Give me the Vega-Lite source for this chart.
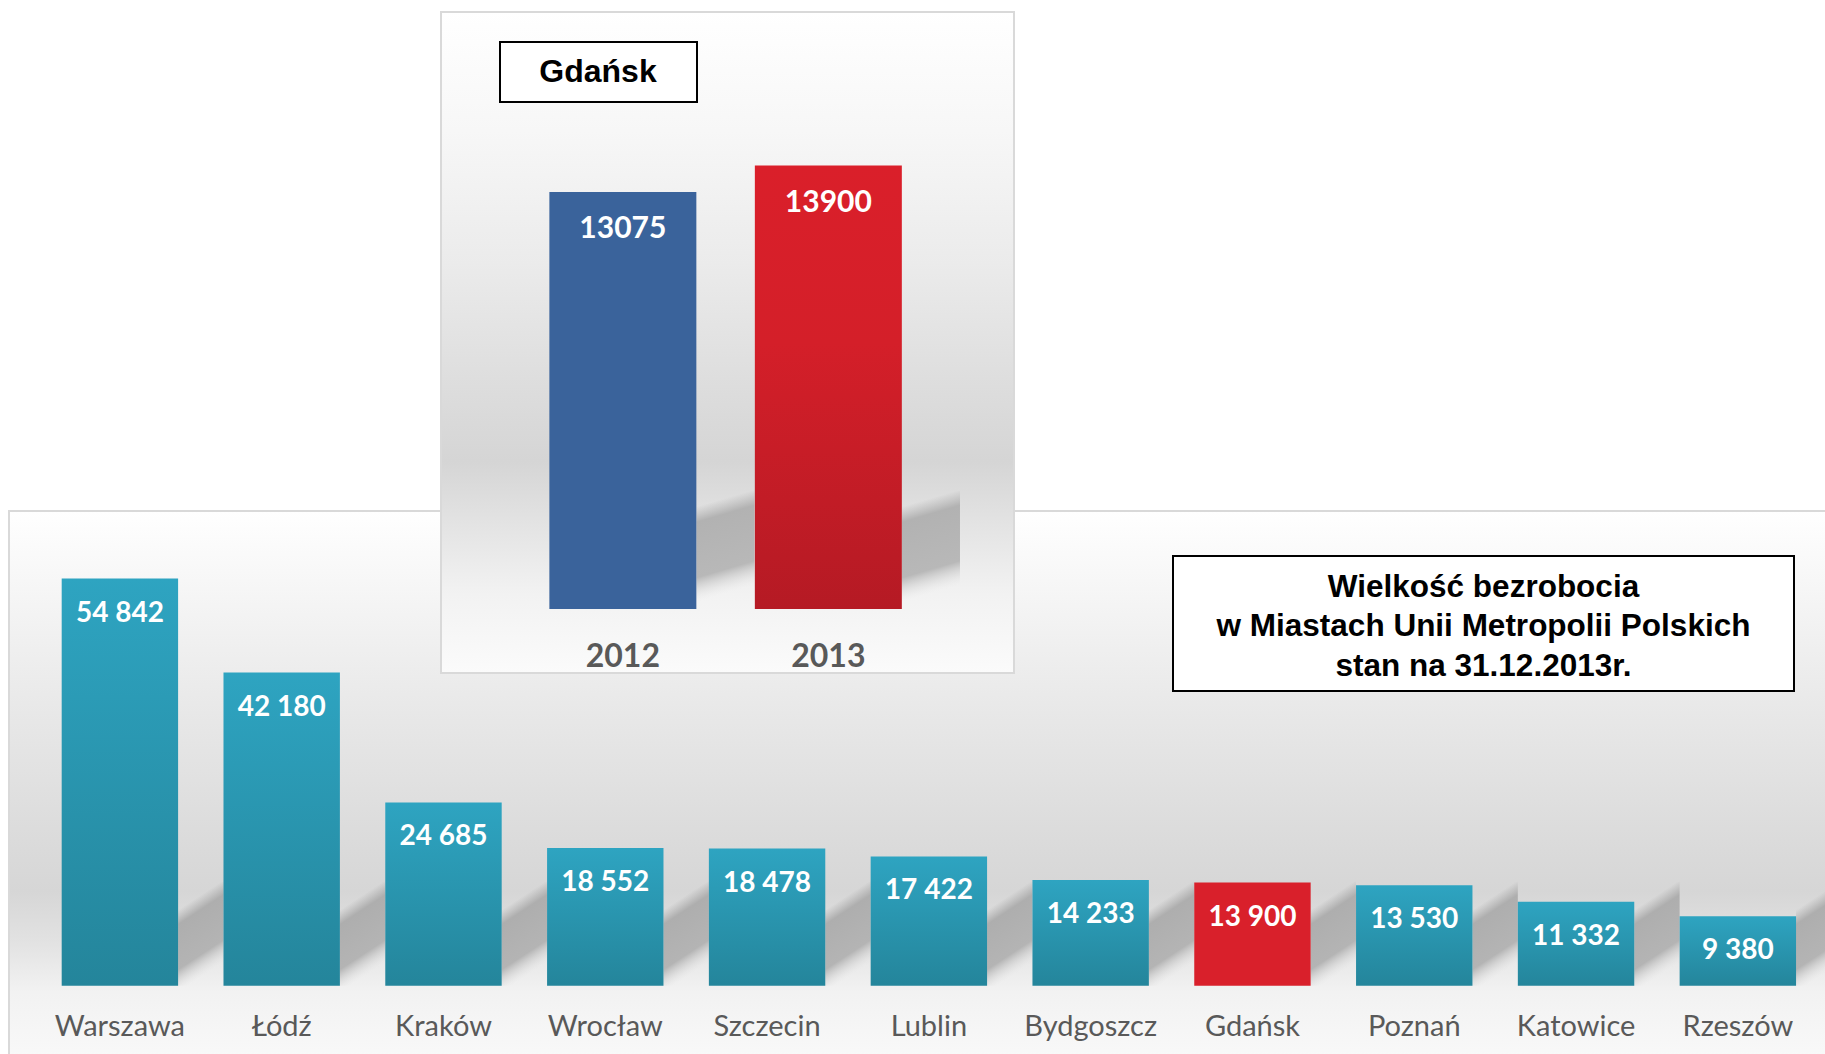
{
  "$schema": "https://vega.github.io/schema/vega-lite/v6.json",
  "width": 1825,
  "height": 1054,
  "autosize": "none",
  "padding": 0,
  "background": "#ffffff",
  "config": {
    "view": {"stroke": null},
    "locale": {"number": {"decimal": ",", "thousands": " ", "grouping": [3], "currency": ["", " zł"]}}
  },
  "datasets": {
    "cities": [
      {"city": "Warszawa", "value": 54842},
      {"city": "Łódź", "value": 42180},
      {"city": "Kraków", "value": 24685},
      {"city": "Wrocław", "value": 18552},
      {"city": "Szczecin", "value": 18478},
      {"city": "Lublin", "value": 17422},
      {"city": "Bydgoszcz", "value": 14233},
      {"city": "Gdańsk", "value": 13900},
      {"city": "Poznań", "value": 13530},
      {"city": "Katowice", "value": 11332},
      {"city": "Rzeszów", "value": 9380}
    ],
    "gdansk": [
      {"year": "2012", "value": 13075},
      {"year": "2013", "value": 13900}
    ]
  },
  "layer": [
    {
      "data": {"values": [{"panel": "main"}]},
      "mark": {
        "type": "rect",
        "stroke": "#d9d9d9",
        "strokeWidth": 2,
        "fill": {
          "gradient": "linear", "x1": 0, "y1": 0, "x2": 0, "y2": 1,
          "stops": [
            {"offset": 0, "color": "#ffffff"},
            {"offset": 0.17, "color": "#f4f4f4"},
            {"offset": 0.36, "color": "#e8e8e8"},
            {"offset": 0.55, "color": "#dddddd"},
            {"offset": 0.68, "color": "#d6d6d6"},
            {"offset": 0.77, "color": "#e2e2e2"},
            {"offset": 0.86, "color": "#f2f2f2"},
            {"offset": 1, "color": "#fafafa"}
          ]
        }
      },
      "encoding": {
        "x": {"value": 9},
        "x2": {"value": 1840},
        "y": {"value": 511},
        "y2": {"value": 1070}
      }
    },
    {
      "data": {"name": "cities"},
      "mark": {
        "type": "rect",
        "fill": {
          "gradient": "linear", "x1": 0, "y1": 0, "x2": 0.286, "y2": 1,
          "stops": [
            {"offset": 0, "color": "rgba(174,174,174,0)"},
            {"offset": 0.25, "color": "rgba(174,174,174,0)"},
            {"offset": 0.38, "color": "rgba(174,174,174,1)"},
            {"offset": 0.78, "color": "rgba(180,180,180,1)"},
            {"offset": 0.98, "color": "rgba(225,225,225,0)"}
          ]
        }
      },
      "encoding": {
        "x": {
          "field": "city", "type": "nominal",
          "scale": {
            "domain": ["Warszawa", "Łódź", "Kraków", "Wrocław", "Szczecin", "Lublin", "Bydgoszcz", "Gdańsk", "Poznań", "Katowice", "Rzeszów"],
            "range": [119.9, 1899.6],
            "paddingInner": 0.7194,
            "paddingOuter": 0.3597
          },
          "axis": null
        },
        "y": {
          "datum": 14000, "type": "quantitative",
          "scale": {"domain": [0, 60000], "range": [985.8, 540.2], "nice": false, "zero": true},
          "axis": null
        },
        "y2": {"datum": 0}
      }
    },
    {
      "data": {"name": "cities"},
      "layer": [
        {
          "mark": {"type": "bar"},
          "encoding": {
            "x": {
              "field": "city", "type": "nominal",
              "scale": {
                "domain": ["Warszawa", "Łódź", "Kraków", "Wrocław", "Szczecin", "Lublin", "Bydgoszcz", "Gdańsk", "Poznań", "Katowice", "Rzeszów"],
                "range": [39.04, 1818.7],
                "paddingInner": 0.2805,
                "paddingOuter": 0.14
              },
              "axis": {
                "orient": "bottom",
                "offset": -18.5,
                "zindex": 2,
                "title": null,
                "domain": false,
                "ticks": false,
                "tickSize": 0,
                "grid": false,
                "labelPadding": 0,
                "labelAngle": 0,
                "labelBaseline": "alphabetic",
                "labelFont": "Lato",
                "labelFontSize": 29,
                "labelColor": "#595959",
                "labelOverlap": false
              }
            },
            "y": {
              "field": "value", "type": "quantitative",
              "scale": {"domain": [0, 60000], "range": [985.8, 540.2], "nice": false, "zero": true},
              "axis": null
            },
            "fill": {
              "condition": {"test": "datum.city === 'Gdańsk'", "value": "#d9202b"},
              "value": {
                "gradient": "linear", "x1": 0, "y1": 0, "x2": 0, "y2": 1,
                "stops": [
                  {"offset": 0, "color": "#2ea4c1"},
                  {"offset": 1, "color": "#24859b"}
                ]
              }
            }
          }
        },
        {
          "mark": {"type": "text", "baseline": "middle", "align": "center", "dy": 35, "font": "Lato", "fontWeight": "bold", "fontSize": 28, "fill": "#ffffff"},
          "encoding": {
            "x": {"field": "city", "type": "nominal"},
            "y": {"field": "value", "type": "quantitative"},
            "text": {"field": "value", "type": "quantitative", "format": ",d"}
          }
        }
      ]
    },
    {
      "data": {"values": [{"panel": "inset"}]},
      "mark": {
        "type": "rect",
        "stroke": "#d9d9d9",
        "strokeWidth": 2,
        "fill": {
          "gradient": "linear", "x1": 0, "y1": 0, "x2": 0, "y2": 1,
          "stops": [
            {"offset": 0, "color": "#ffffff"},
            {"offset": 0.18, "color": "#f7f7f7"},
            {"offset": 0.38, "color": "#ebebeb"},
            {"offset": 0.58, "color": "#dcdcdc"},
            {"offset": 0.68, "color": "#d5d5d5"},
            {"offset": 0.78, "color": "#e4e4e4"},
            {"offset": 0.88, "color": "#f2f2f2"},
            {"offset": 1, "color": "#fbfbfb"}
          ]
        }
      },
      "encoding": {
        "x": {"value": 441},
        "x2": {"value": 1014},
        "y": {"value": 12},
        "y2": {"value": 673}
      }
    },
    {
      "data": {"name": "gdansk"},
      "mark": {
        "type": "rect",
        "fill": {
          "gradient": "linear", "x1": 0, "y1": 0, "x2": 0.144, "y2": 1,
          "stops": [
            {"offset": 0, "color": "rgba(178,178,178,0)"},
            {"offset": 0.13, "color": "rgba(178,178,178,0)"},
            {"offset": 0.26, "color": "rgba(178,178,178,1)"},
            {"offset": 0.72, "color": "rgba(184,184,184,1)"},
            {"offset": 0.92, "color": "rgba(230,230,230,0)"}
          ]
        }
      },
      "encoding": {
        "x": {
          "field": "year", "type": "nominal",
          "scale": {"domain": ["2012", "2013"], "range": [622.7, 1033.7], "paddingInner": 0.7173, "paddingOuter": 0.3587},
          "axis": null
        },
        "y": {
          "datum": 3700, "type": "quantitative",
          "scale": {"domain": [0, 15000], "range": [609, 130.5], "nice": false, "zero": true},
          "axis": null
        },
        "y2": {"datum": 0}
      }
    },
    {
      "data": {"name": "gdansk"},
      "layer": [
        {
          "mark": {"type": "bar"},
          "encoding": {
            "x": {
              "field": "year", "type": "nominal",
              "scale": {"domain": ["2012", "2013"], "range": [520.6, 930.6], "paddingInner": 0.2847, "paddingOuter": 0.14},
              "axis": {
                "orient": "top",
                "offset": -666.5,
                "zindex": 2,
                "title": null,
                "domain": false,
                "ticks": false,
                "tickSize": 0,
                "grid": false,
                "labelPadding": 0,
                "labelAngle": 0,
                "labelBaseline": "alphabetic",
                "labelFont": "Lato",
                "labelFontWeight": "bold",
                "labelFontSize": 32,
                "labelColor": "#595959"
              }
            },
            "y": {
              "field": "value", "type": "quantitative",
              "scale": {"domain": [0, 15000], "range": [609, 130.5], "nice": false, "zero": true},
              "axis": null
            },
            "fill": {
              "condition": {"test": "datum.year === '2012'", "value": "#3a639b"},
              "value": {
                "gradient": "linear", "x1": 0, "y1": 0, "x2": 0, "y2": 1,
                "stops": [
                  {"offset": 0, "color": "#da1f2a"},
                  {"offset": 0.4, "color": "#d41f29"},
                  {"offset": 1, "color": "#b51a24"}
                ]
              }
            }
          }
        },
        {
          "mark": {"type": "text", "baseline": "middle", "align": "center", "dy": 37, "font": "Lato", "fontWeight": "bold", "fontSize": 30, "fill": "#ffffff"},
          "encoding": {
            "x": {"field": "year", "type": "nominal"},
            "y": {"field": "value", "type": "quantitative"},
            "text": {"field": "value", "type": "quantitative", "format": "d"}
          }
        }
      ]
    },
    {
      "data": {"values": [{"box": "gdansk"}]},
      "mark": {"type": "rect", "fill": "#ffffff", "stroke": "#000000", "strokeWidth": 2},
      "encoding": {
        "x": {"value": 500},
        "x2": {"value": 697},
        "y": {"value": 42},
        "y2": {"value": 102}
      }
    },
    {
      "data": {"values": [{"label": "Gdańsk"}]},
      "mark": {"type": "text", "font": "Liberation Sans", "fontWeight": "bold", "fontSize": 32, "fill": "#000000", "align": "center", "baseline": "middle"},
      "encoding": {
        "x": {"value": 598},
        "y": {"value": 72},
        "text": {"field": "label", "type": "nominal"}
      }
    },
    {
      "data": {"values": [{"box": "title"}]},
      "mark": {"type": "rect", "fill": "#ffffff", "stroke": "#000000", "strokeWidth": 2},
      "encoding": {
        "x": {"value": 1173},
        "x2": {"value": 1794},
        "y": {"value": 556},
        "y2": {"value": 691}
      }
    },
    {
      "data": {"values": [{"box": "title"}]},
      "mark": {
        "type": "text",
        "text": ["Wielkość bezrobocia", "w Miastach Unii Metropolii Polskich", "stan na 31.12.2013r."],
        "font": "Liberation Sans", "fontWeight": "bold", "fontSize": 31.5, "lineHeight": 39.5,
        "fill": "#000000", "align": "center", "baseline": "middle"
      },
      "encoding": {
        "x": {"value": 1483.5},
        "y": {"value": 587.5}
      }
    }
  ],
  "resolve": {
    "scale": {"x": "independent", "y": "independent", "fill": "independent"},
    "axis": {"x": "independent", "y": "independent"}
  }
}
